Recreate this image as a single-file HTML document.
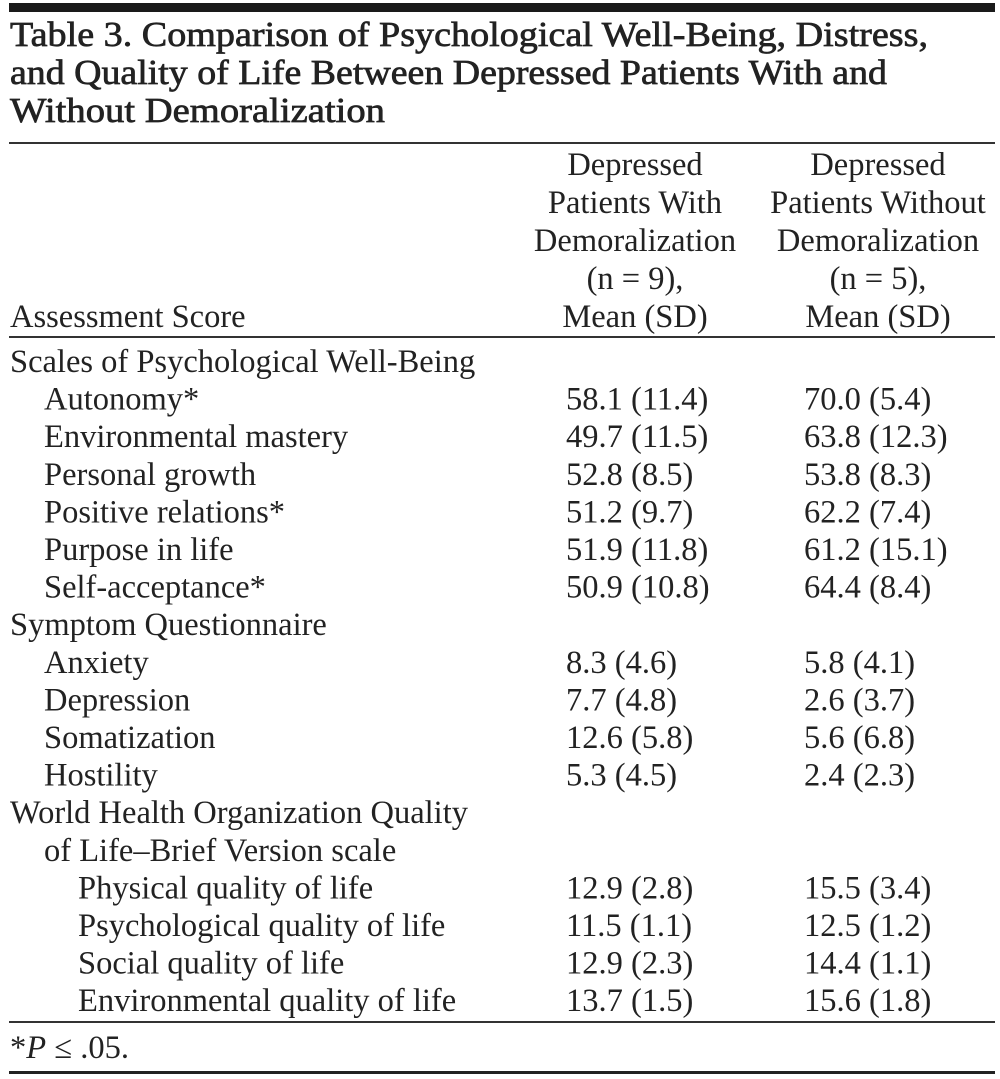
<!DOCTYPE html>
<html><head><meta charset="utf-8"><style>
html,body{margin:0;padding:0;background:#fff}
svg{display:block}
text{font-family:"Liberation Serif",serif;fill:#222;font-size:32.5px}
.t{font-size:35px;font-weight:normal;stroke:#222;stroke-width:0.7}
</style></head><body>
<svg width="1000" height="1079">
<rect x="9" y="3" width="986" height="9" fill="#1a1a1a"/>
<g>
<text class="t" x="10" y="46" textLength="918" lengthAdjust="spacingAndGlyphs">Table 3. Comparison of Psychological Well-Being, Distress,</text>
<text class="t" x="10" y="84" textLength="877" lengthAdjust="spacingAndGlyphs">and Quality of Life Between Depressed Patients With and</text>
<text class="t" x="10" y="122" textLength="375" lengthAdjust="spacingAndGlyphs">Without Demoralization</text>
</g>
<rect x="9" y="142" width="986" height="2" fill="#333"/>
<g text-anchor="middle">
<text x="635" y="175">Depressed</text>
<text x="635" y="213">Patients With</text>
<text x="635" y="251">Demoralization</text>
<text x="635" y="289">(n = 9),</text>
<text x="635" y="327">Mean (SD)</text>
<text x="878" y="175">Depressed</text>
<text x="878" y="213">Patients Without</text>
<text x="878" y="251">Demoralization</text>
<text x="878" y="289">(n = 5),</text>
<text x="878" y="327">Mean (SD)</text>
</g>
<text x="10" y="327">Assessment Score</text>
<rect x="9" y="336" width="986" height="2" fill="#333"/>
<g id="body"></g>
<rect x="9" y="1021" width="986" height="2" fill="#333"/>
<text x="10" y="1058">*<tspan font-style="italic">P</tspan> ≤ .05.</text>
<rect x="9" y="1071" width="986" height="3" fill="#222"/>
</svg>
<script>
const labels=["Scales of Psychological Well-Being","Autonomy*","Environmental mastery","Personal growth","Positive relations*","Purpose in life","Self-acceptance*","Symptom Questionnaire","Anxiety","Depression","Somatization","Hostility","World Health Organization Quality","of Life–Brief Version scale","Physical quality of life","Psychological quality of life","Social quality of life","Environmental quality of life"];
const indents=[0,1,1,1,1,1,1,0,1,1,1,1,0,1,2,2,2,2];
const withDem=["","58.1 (11.4)","49.7 (11.5)","52.8 (8.5)","51.2 (9.7)","51.9 (11.8)","50.9 (10.8)","","8.3 (4.6)","7.7 (4.8)","12.6 (5.8)","5.3 (4.5)","","","12.9 (2.8)","11.5 (1.1)","12.9 (2.3)","13.7 (1.5)"];
const withoutDem=["","70.0 (5.4)","63.8 (12.3)","53.8 (8.3)","62.2 (7.4)","61.2 (15.1)","64.4 (8.4)","","5.8 (4.1)","2.6 (3.7)","5.6 (6.8)","2.4 (2.3)","","","15.5 (3.4)","12.5 (1.2)","14.4 (1.1)","15.6 (1.8)"];
const g=document.getElementById('body');
const NS="http://www.w3.org/2000/svg";
function mk(x,y,s,name){const t=document.createElementNS(NS,'text');t.setAttribute('x',x);t.setAttribute('y',y);t.textContent=s;


g.appendChild(t);}
labels.forEach((l,i)=>{const y=372+i*37.6;
mk(10+indents[i]*34,y,l,'row-label');
if(withDem[i])mk(566,y,withDem[i],'value-with-demoralization');
if(withoutDem[i])mk(804,y,withoutDem[i],'value-without-demoralization');});
</script>
</body></html>
